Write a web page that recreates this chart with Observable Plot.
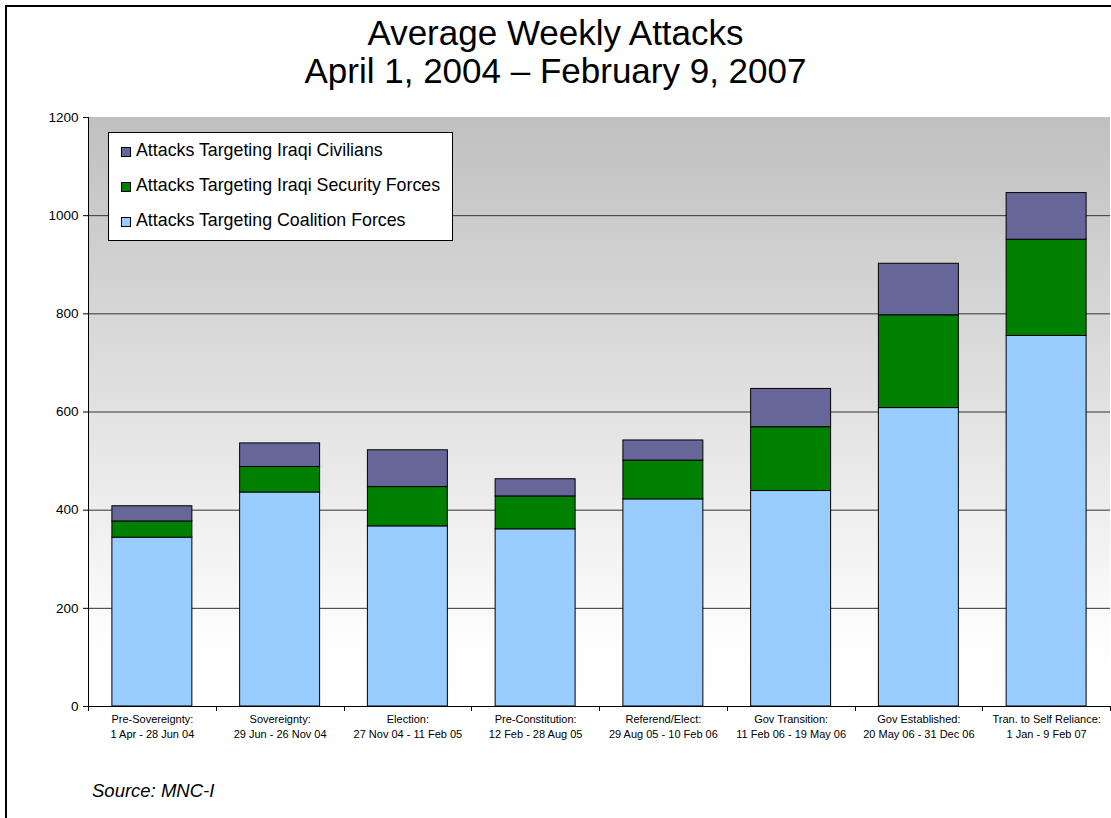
<!DOCTYPE html>
<html><head><meta charset="utf-8">
<script src="https://cdn.jsdelivr.net/npm/d3@7"></script>
<script src="https://cdn.jsdelivr.net/npm/@observablehq/plot@0.6"></script>
<style>
body{margin:0;background:#fff;font-family:Arial,"Liberation Sans",sans-serif;}
#wrap{position:relative;width:1111px;height:818px;overflow:hidden;background:#fff;}
#frame{position:absolute;left:5px;top:5px;width:1200px;height:900px;border:2px solid #000;box-sizing:border-box;}
#title{position:absolute;left:0;top:14px;width:1111px;text-align:center;font-size:35px;line-height:38px;color:#000;}
#chart{position:absolute;left:0;top:100px;}
#legend{position:absolute;left:108px;top:132px;width:345px;height:109px;background:#fff;border:1px solid #000;box-sizing:border-box;}
.item{position:absolute;left:12px;font-size:17.8px;line-height:20px;white-space:nowrap;color:#000;}
.sw{display:inline-block;width:8px;height:8px;border:1px solid #000;margin-right:5px;vertical-align:-1px;}
#source{position:absolute;left:92px;top:781px;font-style:italic;font-size:18.5px;line-height:20px;}
</style></head>
<body>
<div id="wrap">
  <div id="frame"></div>
  <div id="title">Average Weekly Attacks<br>April 1, 2004 – February 9, 2007</div>
  <div id="chart"></div>
  <div id="legend"></div>
  <div id="source">Source: MNC-I</div>
</div>
<script>
// ---- data ----
const categories = [
  "Pre-Sovereignty:\n1 Apr - 28 Jun 04",
  "Sovereignty:\n29 Jun - 26 Nov 04",
  "Election:\n27 Nov 04 - 11 Feb 05",
  "Pre-Constitution:\n12 Feb - 28 Aug 05",
  "Referend/Elect:\n29 Aug 05 - 10 Feb 06",
  "Gov Transition:\n11 Feb 06 - 19 May 06",
  "Gov Established:\n20 May 06 - 31 Dec 06",
  "Tran. to Self Reliance:\n1 Jan - 9 Feb 07"
];
const seriesNames = [
  "Attacks Targeting Coalition Forces",
  "Attacks Targeting Iraqi Security Forces",
  "Attacks Targeting Iraqi Civilians"
];
const coalition = [344, 436, 367, 361, 422, 439, 608, 755];
const security  = [33, 52, 80, 67, 79, 130, 189, 196];
const civilians = [31, 48, 75, 35, 41, 78, 105, 95];
const seriesColors = ["#99ccff", "#008000", "#666699"];
const yTicks = [0, 200, 400, 600, 800, 1000, 1200];
const gridTicks = [200, 400, 600, 800, 1000];

// ---- table ----
const seriesValues = [coalition, security, civilians];
const data = [];
categories.forEach((c, i) => {
  seriesNames.forEach((s, j) => data.push({cat: c, series: s, value: seriesValues[j][i]}));
});

// background gradient of the plotting area
function background(index, scales, values, dim) {
  const g = d3.create("svg:g");
  const defs = g.append("defs");
  const grad = defs.append("linearGradient").attr("id", "bgGrad")
    .attr("x1", 0).attr("y1", 0).attr("x2", 0).attr("y2", 1);
  grad.append("stop").attr("offset", "0%").attr("stop-color", "#c0c0c0");
  grad.append("stop").attr("offset", "50%").attr("stop-color", "#e2e2e2");
  grad.append("stop").attr("offset", "88%").attr("stop-color", "#fdfdfd");
  grad.append("stop").attr("offset", "100%").attr("stop-color", "#ffffff");
  g.append("rect")
    .attr("x", dim.marginLeft).attr("y", dim.marginTop)
    .attr("width", dim.width - dim.marginLeft - dim.marginRight)
    .attr("height", dim.height - dim.marginTop - dim.marginBottom)
    .attr("fill", "url(#bgGrad)");
  return g.node();
}
// axis lines and category boundary ticks
function axisLines(index, scales, values, dim) {
  const g = d3.create("svg:g").attr("stroke", "#000").attr("stroke-width", 1);
  const bottom = dim.height - dim.marginBottom;
  g.append("line").attr("x1", dim.marginLeft + 0.5).attr("x2", dim.marginLeft + 0.5)
    .attr("y1", dim.marginTop).attr("y2", bottom);
  const n = categories.length;
  const slot = (dim.width - dim.marginLeft - dim.marginRight) / n;
  for (let i = 0; i <= n; i++) {
    const x = Math.round(dim.marginLeft + i * slot) + 0.5;
    g.append("line").attr("x1", x).attr("x2", x).attr("y1", bottom).attr("y2", bottom + 5);
  }
  return g.node();
}

const chart = Plot.plot({
  width: 1111,
  height: 718,
  marginTop: 17,
  marginBottom: 112,
  marginLeft: 88,
  marginRight: 1,
  style: {fontFamily: "Arial, 'Liberation Sans', sans-serif", background: "transparent", color: "#000"},
  x: {domain: categories, paddingInner: 0.374, paddingOuter: 0.187, round: false, label: null},
  y: {domain: [0, 1200], label: null},
  color: {domain: seriesNames, range: seriesColors, legend: false},
  marks: [
    background,
    Plot.ruleY(gridTicks, {stroke: "#333", strokeWidth: 1}),
    Plot.barY(data, {x: "cat", y: "value", fill: "series", stroke: "#000", strokeWidth: 1,
      order: seriesNames}),
    Plot.ruleY([0], {stroke: "#000", strokeWidth: 1}),
    axisLines,
    Plot.axisY({ticks: yTicks, tickFormat: d3.format("d"), tickSize: 5, tickPadding: 5, fontSize: 13.5, label: null, stroke: "#000"}),
    Plot.axisX({tickSize: 0, tickPadding: 6, fontSize: 11, lineHeight: 1.33, label: null})
  ]
});
document.getElementById("chart").appendChild(chart);

// legend (top series first, as in the original)
const legend = document.getElementById("legend");
const legendOrder = [2, 1, 0];
const legendTops = [7, 42, 77];
legendOrder.forEach((j, k) => {
  const div = document.createElement("div");
  div.className = "item";
  div.style.top = legendTops[k] + "px";
  const sw = document.createElement("span");
  sw.className = "sw";
  sw.style.background = seriesColors[j];
  div.appendChild(sw);
  div.appendChild(document.createTextNode(seriesNames[j]));
  legend.appendChild(div);
});
</script>
</body></html>
